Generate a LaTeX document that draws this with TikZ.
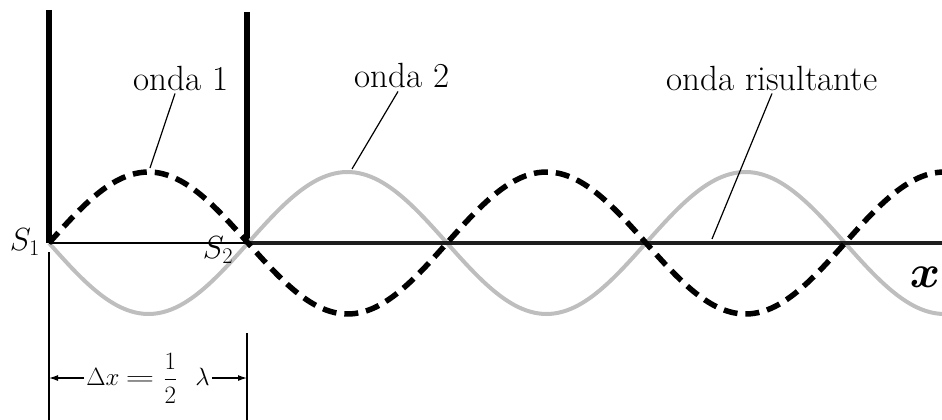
\RequirePackage{fix-cm}
\documentclass[tikz,border=0pt]{standalone}
\usepackage{fontspec}
\usepackage{graphicx}
\definecolor{waveGray}{HTML}{BEBEBE}
\definecolor{inkDark}{HTML}{1E1E1E}
\usetikzlibrary{arrows.meta}

\begin{document}
\begin{tikzpicture}[x=1pt,y=-1pt,
  bar/.style={black,line width=6pt},
  wavea/.style={black,line width=5.5pt,dash pattern=on 14pt off 8pt},
  waveb/.style={waveGray,line width=4pt},
  axis/.style={inkDark,line width=4pt},
  thin/.style={black,line width=1.2pt},
  lead/.style={black,line width=1.2pt},
  dimarr/.style={black,line width=1.2pt,-{Latex[length=9pt,width=6pt]}},
  lbl/.style={font=\fontsize{35}{40}\selectfont,inner sep=3pt},
  src/.style={font=\fontsize{32}{36}\selectfont,inner sep=1pt}]
  \clip (0,0) rectangle (942,420);
  % sources
  \coordinate (S1) at (49,243);
  \coordinate (S2) at (247,243);
  \draw[bar] (49,10) -- (S1);
  \draw[bar] (247,12) -- (S2);
  % wave 2 (gray), axis, wave 1 (dashed)
  \draw[waveb] plot[domain=49:942,samples=220,smooth] (\x,{243+71*sin((\x-49)/199*180)});
  \draw[thin] (S1) -- (S2);
  \draw[axis] (S2) -- (942,243);
  \draw[wavea] plot[domain=49:942,samples=220,smooth] (\x,{243-71*sin((\x-49)/199*180)});
  % labels with leaders
  \node[lbl,anchor=base] (onda1) at (181,90) {onda 1};
  \coordinate (peak1) at (150,168);
  \draw[lead] ([xshift=-6pt]onda1.south) -- (peak1);
  \node[lbl,anchor=base] (onda2) at (402,88) {onda 2};
  \coordinate (peak2) at (352,169);
  \draw[lead] ([xshift=-4pt]onda2.south) -- (peak2);
  \node[lbl,anchor=base] (ondaR) at (772,90) {onda risultante};
  \coordinate (axpt) at (712,239);
  \draw[lead] (ondaR.south) -- (axpt);
  \node[src] (s1lbl) at (25,242) {$S_1$};
  \node[src] (s2lbl) at (218,250) {$S_2$};
  \node[font=\fontsize{46}{46}\selectfont\boldmath,inner sep=1pt] (xlbl) at (925,277) {$x$};
  % path difference
  \draw[thin] (49,252) -- (49,420);
  \draw[thin] (247,333) -- (247,420);
  \coordinate (dimL) at (49,378);
  \coordinate (dimR) at (247,378);
  \node[font=\fontsize{25}{29}\selectfont,inner sep=2pt] (dim) at (148,378)
    {$\Delta x\hspace{6pt}\scalebox{1.6}[1]{$=$}\hspace{9pt}\displaystyle\frac{1}{2}\hspace{18pt}\lambda$};
  \draw[dimarr] (dim.west) -- (dimL);
  \draw[dimarr] (dim.east) -- (dimR);
\end{tikzpicture}
\end{document}
